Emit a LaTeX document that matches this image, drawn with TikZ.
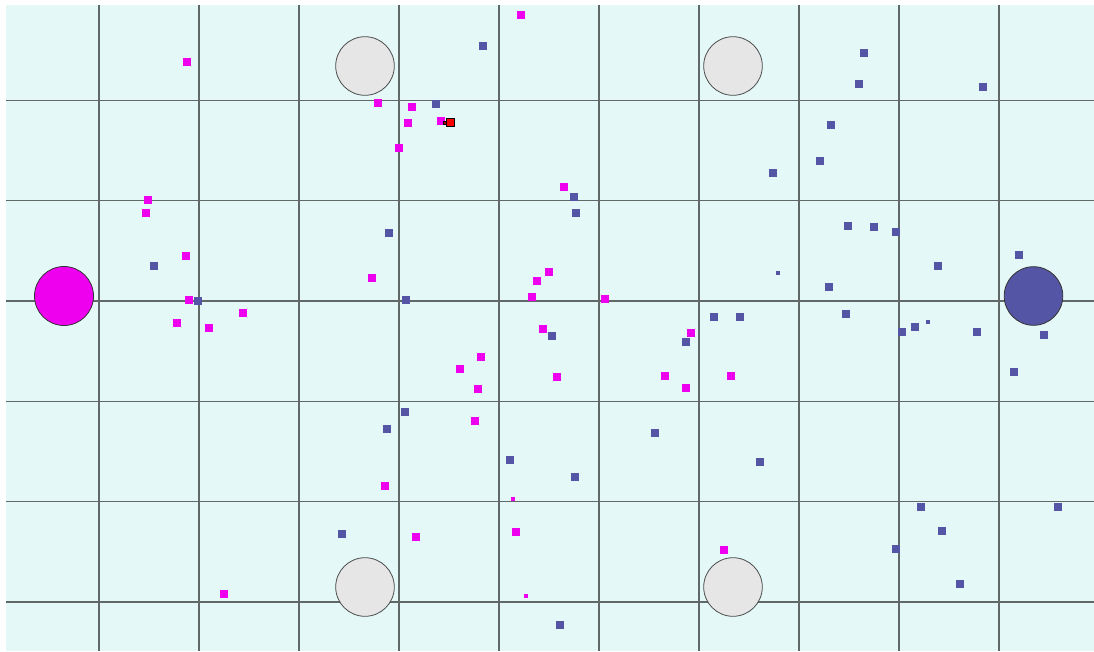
\documentclass[tikz,border=0pt]{standalone}
\usepackage{tikz}

\definecolor{fieldbg}{RGB}{228,248,248}
\definecolor{teamA}{RGB}{238,0,238}
\definecolor{teamB}{RGB}{85,85,165}
\definecolor{gridcol}{RGB}{96,104,104}
\definecolor{obstacle}{RGB}{230,230,230}

\begin{document}
\begin{tikzpicture}[x=1pt,y=-1pt]
    % Define styles
    \tikzstyle{gridline} = [draw=gridcol, line width=1.3pt]
    \tikzstyle{post} = [fill=obstacle, draw=black!70, line width=0.8pt]
    \tikzstyle{base} = [draw=black!80, line width=0.8pt]

    \useasboundingbox (0,0) rectangle (1094,651);

    % Field and grid
    \fill[fieldbg] (6,5) rectangle (1094,651);
    \foreach \x in {99,199,...,999}
        \draw[gridline] (\x,5) -- (\x,651);
    \foreach \y in {100.3,200.7,301,401.3,501.7,602}
        \draw[gridline] (6,\y) -- (1094,\y);

    % Obstacles and bases
    \foreach \x/\y in {365/66, 733/66, 365/587, 733/587}
        \draw[post] (\x,\y) circle (29.3);
    \draw[base, fill=teamA] (64,296) circle (29.5);
    \draw[base, fill=teamB] (1033.5,296) circle (29.3);

    % Magenta agents
    \foreach \x/\y in {521/15, 187/62, 378/103, 412/107, 408/123, 441/121,
        399/148, 564/187, 148/200, 146/213, 186/256, 549/272, 372/278,
        537/281, 532/297, 605/299, 189/300, 243/313, 177/323, 209/328,
        543/329, 691/333, 481/357, 460/369, 557/377, 665/376, 731/376,
        478/389, 686/388, 475/421, 385/486, 516/532, 416/537, 724/550,
        224/594}
        \fill[teamA] (\x-4,\y-4) rectangle (\x+4,\y+4);
    \foreach \x/\y in {513/499, 526/596}
        \fill[teamA] (\x-2,\y-2) rectangle (\x+2,\y+2);

    % Blue agents
    \foreach \x/\y in {483/46, 864/53, 859/84, 983/87, 436/104, 831/125,
        820/161, 773/173, 574/197, 576/213, 848/226, 874/227, 896/232,
        389/233, 938/266, 1019/255, 154/266, 829/287, 198/301, 406/300,
        846/314, 714/317, 740/317, 902/332, 915/327, 977/332, 1044/335,
        552/336, 686/342, 1014/372, 405/412, 387/429, 655/433, 510/460,
        760/462, 575/477, 342/534, 921/507, 942/531, 1058/507, 896/549,
        960/584, 560/625}
        \fill[teamB] (\x-4,\y-4) rectangle (\x+4,\y+4);
    \foreach \x/\y in {778/273, 928/322}
        \fill[teamB] (\x-2,\y-2) rectangle (\x+2,\y+2);

    % Ball carrier
    \draw[fill=red, draw=black, line width=0.8pt] (446,118) rectangle (454,126);
    \draw[fill=red!70!black, draw=black, line width=0.6pt] (443.5,121.5) rectangle (446,124);
\end{tikzpicture}
\end{document}
